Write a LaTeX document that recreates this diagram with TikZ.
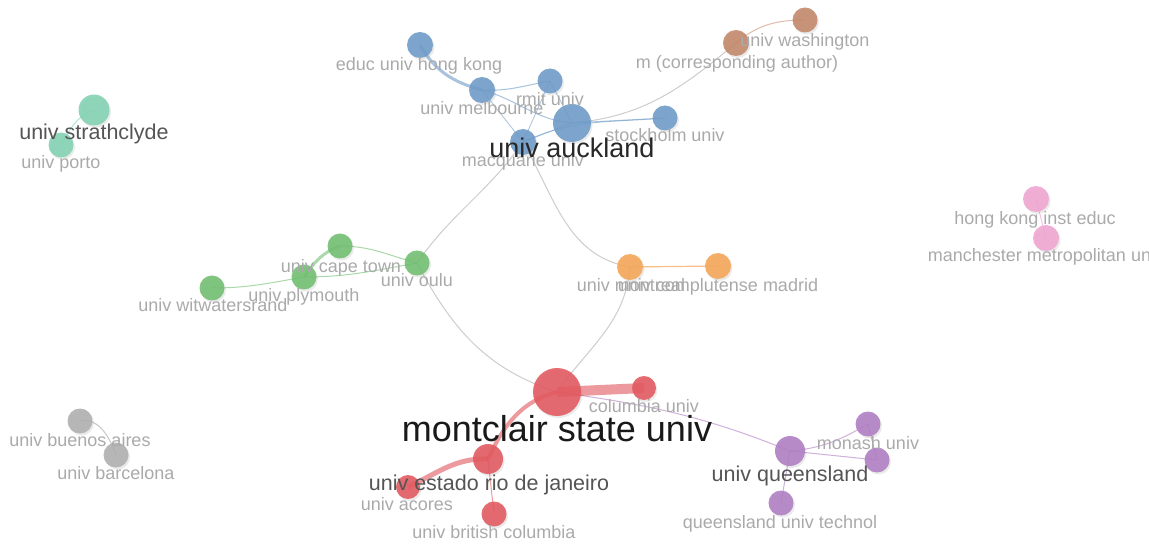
\documentclass[tikz,border=0pt]{standalone}
\usepackage{fontspec}
\setmainfont{Liberation Sans}
\usetikzlibrary{shadows}
\definecolor{cblue}{RGB}{110,155,200}
\definecolor{cred}{RGB}{226,88,94}
\definecolor{cgreen}{RGB}{112,190,112}
\definecolor{cpurple}{RGB}{175,125,195}
\definecolor{corange}{RGB}{245,165,85}
\definecolor{cbrown}{RGB}{195,135,105}
\definecolor{cteal}{RGB}{130,210,178}
\definecolor{cpink}{RGB}{240,165,210}
\definecolor{cgray}{RGB}{175,175,175}
\definecolor{lgray}{RGB}{170,170,170}
\definecolor{mgray}{RGB}{85,85,85}
\definecolor{dgray}{RGB}{40,40,40}
\definecolor{egcol}{RGB}{205,205,205}
\pgfdeclarelayer{back}
\pgfdeclarelayer{edges}
\pgfsetlayers{back,edges,main}
\begin{document}
\begin{tikzpicture}[x=1pt,y=-1pt,
  nd/.style={circle, inner sep=0pt, minimum size=#1, fill opacity=0.88,
     drop shadow={shadow xshift=1.5pt, shadow yshift=-2pt, opacity=0.16}},
  sl/.style={anchor=base, inner sep=0pt, text=lgray, font=\fontsize{18}{18}\selectfont},
  ml/.style={anchor=base, inner sep=0pt, text=mgray, font=\fontsize{21.5}{21.5}\selectfont},
  al/.style={anchor=base, inner sep=0pt, text=dgray, font=\fontsize{27}{27}\selectfont},
  bigl/.style={anchor=base, inner sep=0pt, text=black!90, font=\fontsize{36}{36}\selectfont},
  eb/.style={draw=cblue, line width=#1, opacity=0.6},
  er/.style={draw=cred, line width=#1, opacity=0.6},
  egr/.style={draw=cgreen, line width=#1, opacity=0.6},
  eg/.style={draw=egcol, line width=1pt},
  ebr/.style={draw=cbrown, line width=1pt, opacity=0.55},
  eo/.style={draw=corange, line width=1.2pt, opacity=0.7},
  ep/.style={draw=cpurple, line width=1pt, opacity=0.6},
  et/.style={draw=cteal, line width=1pt, opacity=0.6},
  epk/.style={draw=cpink, line width=1pt, opacity=0.7},
  egy/.style={draw=cgray, line width=1pt, opacity=0.7},
]
\useasboundingbox (0,0) rectangle (1149,545);
\clip (0,0) rectangle (1149,545);
\begin{pgfonlayer}{back}
\fill[white] (0,0) rectangle (1149,545);
\end{pgfonlayer}

% nodes
\node[nd=26pt,fill=cblue] (hk) at (420,45) {};
\node[nd=26pt,fill=cblue] (mel) at (482,90) {};
\node[nd=25pt,fill=cblue] (rmit) at (550,81) {};
\node[nd=38pt,fill=cblue] (auck) at (572,123) {};
\node[nd=26pt,fill=cblue] (mac) at (523,142) {};
\node[nd=25pt,fill=cblue] (sto) at (665,118) {};
\node[nd=25pt,fill=cbrown] (wash) at (805,20) {};
\node[nd=26pt,fill=cbrown] (mca) at (736,43) {};
\node[nd=31pt,fill=cteal] (stra) at (94,110) {};
\node[nd=25pt,fill=cteal] (porto) at (61,145) {};
\node[nd=25pt,fill=cgreen] (cape) at (340,246) {};
\node[nd=25pt,fill=cgreen] (ply) at (304,277) {};
\node[nd=25pt,fill=cgreen] (wit) at (212,288) {};
\node[nd=25pt,fill=cgreen] (oulu) at (417,263) {};
\node[nd=26pt,fill=corange] (mon) at (630,267) {};
\node[nd=26pt,fill=corange] (comp) at (718,266) {};
\node[nd=26pt,fill=cpink] (hkie) at (1036,199) {};
\node[nd=26pt,fill=cpink] (man) at (1046,238) {};
\node[nd=48pt,fill=cred] (mont) at (557,392) {};
\node[nd=24pt,fill=cred] (col) at (644,388) {};
\node[nd=30pt,fill=cred] (est) at (488,459) {};
\node[nd=24pt,fill=cred] (aco) at (408,487) {};
\node[nd=25pt,fill=cred] (ubc) at (494,514) {};
\node[nd=30pt,fill=cpurple] (qld) at (790,451) {};
\node[nd=25pt,fill=cpurple] (mona) at (868,424) {};
\node[nd=25pt,fill=cpurple] (pur2) at (877,460) {};
\node[nd=25pt,fill=cpurple] (qut) at (781,503) {};
\node[nd=25pt,fill=cgray] (ba) at (80,421) {};
\node[nd=25pt,fill=cgray] (bar) at (116,455) {};

% edges
\begin{pgfonlayer}{edges}
\draw[eg] (auck.center) to[out=5,in=-140] (mca.center);
\draw[eg] (oulu.center) to[out=55,in=-125] (mac.center);
\draw[eg] (mac.center) to[out=-60,in=170] (mon.center);
\draw[eg] (oulu.center) to[out=-62,in=162] (mont.center);
\draw[eg] (mon.center) to[out=-95,in=55] (mont.center);
\draw[ep] (mont.center) to[out=-8,in=158] (qld.center);
\draw[ebr] (mca.center) to[out=40,in=180] (wash.center);
\draw[eb=3pt] (hk.center) to[out=-60,in=165] (mel.center);
\draw[eb=1pt] (mel.center) to[out=-3,in=190] (rmit.center);
\draw[eb=1pt] (mel.center) to[out=-15,in=175] (auck.center);
\draw[eb=0.8pt] (mel.center) -- (mac.center);
\draw[eb=0.8pt] (rmit.center) -- (mac.center);
\draw[eb=0.8pt] (rmit.center) -- (auck.center);
\draw[eb=0.8pt] (mac.center) -- (auck.center);
\draw[eb=1pt] (auck.center) -- (sto.center);
\draw[eb=0.8pt] (mac.center) to[out=25,in=185] (sto.center);
\draw[er=10pt] (mont.center) -- (col.center);
\draw[er=4pt] (mont.center) to[out=195,in=65] (est.center);
\draw[er=5pt] (est.center) to[out=178,in=25] (aco.center);
\draw[er=1pt] (est.center) -- (ubc.center);
\draw[egr=1pt] (wit.center) to[out=0,in=190] (ply.center);
\draw[egr=3pt] (ply.center) to[out=55,in=200] (cape.center);
\draw[egr=1pt] (cape.center) to[out=0,in=165] (oulu.center);
\draw[egr=1pt] (ply.center) to[out=0,in=190] (oulu.center);
\draw[eo] (mon.center) -- (comp.center);
\draw[ep] (qld.center) to[out=5,in=210] (mona.center);
\draw[ep] (qld.center) -- (pur2.center);
\draw[ep] (mona.center) -- (pur2.center);
\draw[ep] (qld.center) -- (qut.center);
\draw[et] (porto.center) to[out=60,in=200] (stra.center);
\draw[epk] (hkie.center) -- (man.center);
\draw[egy] (ba.center) to[out=10,in=110] (bar.center);
\end{pgfonlayer}

% labels
\node[sl] (hk-l) at (419,71) {educ univ hong kong};
\node[sl] (mel-l) at (482,115) {univ melbourne};
\node[sl] (rmit-l) at (550,106) {rmit univ};
\node[sl] (sto-l) at (665,142) {stockholm univ};
\node[sl] (mac-l) at (523,167) {macquarie univ};
\node[al] (auck-l) at (572,158) {univ auckland};
\node[sl] (wash-l) at (805,47) {univ washington};
\node[sl] (mca-l) at (737,69) {m (corresponding author)};
\node[ml] (stra-l) at (94,140) {univ strathclyde};
\node[sl] (porto-l) at (61,169) {univ porto};
\node[sl] (cape-l) at (341,273) {univ cape town};
\node[sl] (ply-l) at (304,302) {univ plymouth};
\node[sl] (wit-l) at (213,312) {univ witwatersrand};
\node[sl] (oulu-l) at (417,287) {univ oulu};
\node[sl] (mon-l) at (631,292) {univ montreal};
\node[sl] (comp-l) at (718,292) {univ complutense madrid};
\node[sl] (hkie-l) at (1035,225) {hong kong inst educ};
\node[sl] (man-l) at (1046,262) {manchester metropolitan univ};
\node[bigl] (mont-l) at (557,441) {montclair state univ};
\node[sl] (col-l) at (644,412) {columbia univ};
\node[ml] (est-l) at (489,490) {univ estado rio de janeiro};
\node[sl] (aco-l) at (407,510) {univ acores};
\node[sl] (ubc-l) at (494,538) {univ british columbia};
\node[ml] (qld-l) at (790,481) {univ queensland};
\node[sl] (mona-l) at (868,449) {monash univ};
\node[sl] (qut-l) at (780,528) {queensland univ technol};
\node[sl] (ba-l) at (80,446) {univ buenos aires};
\node[sl] (bar-l) at (116,479) {univ barcelona};
\end{tikzpicture}
\end{document}
